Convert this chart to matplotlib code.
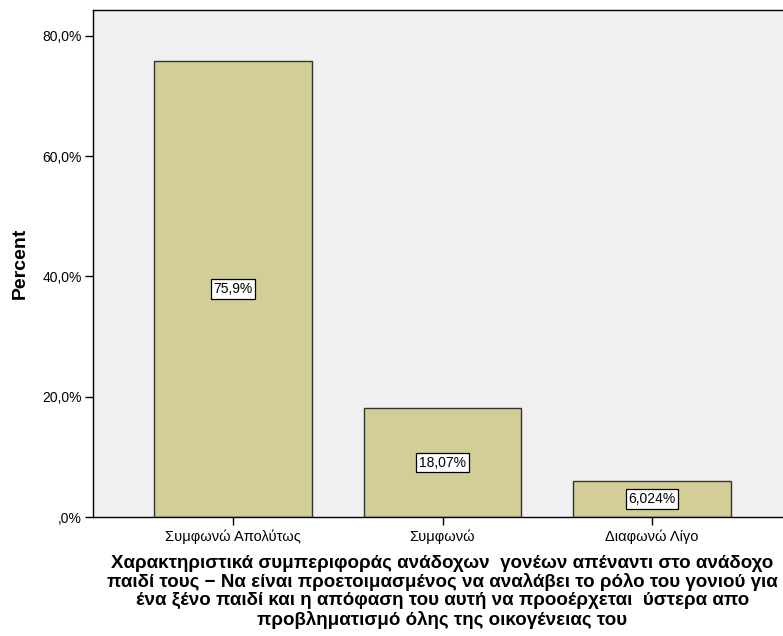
import matplotlib
matplotlib.use('Agg')
import matplotlib.pyplot as plt

plt.rcParams['font.family'] = ['Liberation Sans', 'DejaVu Sans']

categories = ['Συμφωνώ Απολύτως', 'Συμφωνώ', 'Διαφωνώ Λίγο']
percents = [75.9, 18.07, 6.024]
bar_labels = ['75,9%', '18,07%', '6,024%']
yticks = [0, 20, 40, 60, 80]
ytick_labels = [',0%', '20,0%', '40,0%', '60,0%', '80,0%']
xlabel = ('Χαρακτηριστικά συμπεριφοράς ανάδοχων  γονέων απέναντι στο ανάδοχο\n'
          'παιδί τους − Να είναι προετοιμασμένος να αναλάβει το ρόλο του γονιού για\n'
          'ένα ξένο παιδί και η απόφαση του αυτή να προοέρχεται  ύστερα απο\n'
          'προβληματισμό όλης της οικογένειας του')

fig = plt.figure(figsize=(7.83, 6.36), dpi=100)
ax = fig.add_axes([0.1188, 0.1871, 0.8927, 0.7972])
ax.set_facecolor('#F0F0F0')

x = list(range(len(categories)))
ax.bar(x, percents, width=0.75, color='#D3CE97', edgecolor='#333333', linewidth=1, zorder=2)

for xi, v, lab in zip(x, percents, bar_labels):
    ax.text(xi, v / 2, lab, ha='center', va='center', fontsize=10, zorder=3,
            bbox=dict(boxstyle='square,pad=0.2', facecolor='white', edgecolor='black', linewidth=0.9))

ax.set_xlim(-0.668, 2.668)
ax.set_ylim(0, 84.3)
ax.set_xticks(x)
ax.set_xticklabels(categories, fontsize=10.5)
ax.set_yticks(yticks)
ax.set_yticklabels(ytick_labels, fontsize=10)
ax.tick_params(axis='both', direction='out', length=6, width=1, color='black')
ax.tick_params(axis='x', pad=3)
ax.tick_params(axis='y', pad=2)

for s in ax.spines.values():
    s.set_color('black')
    s.set_linewidth(1)

ax.set_ylabel('Percent', fontsize=14, fontweight='bold', labelpad=10)
ax.set_xlabel(xlabel, fontsize=13.5, fontweight='bold', linespacing=1.08, labelpad=8)

fig.savefig('out.png', dpi=100)
